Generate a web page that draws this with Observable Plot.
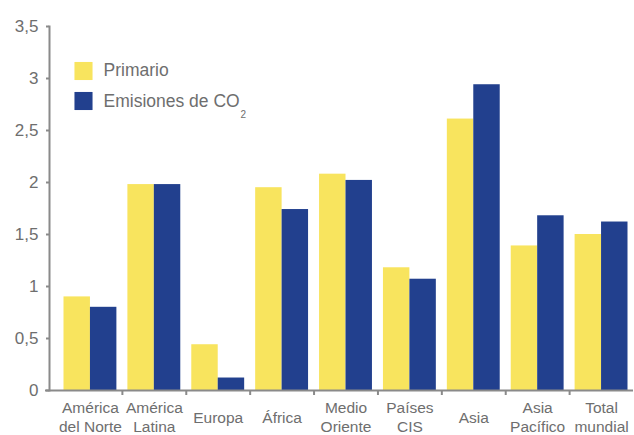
<!DOCTYPE html>
<html>
<head>
<meta charset="utf-8">
<script src="https://cdn.jsdelivr.net/npm/d3@7"></script>
<script src="https://cdn.jsdelivr.net/npm/@observablehq/plot@0.6"></script>
<style>
  body { margin: 0; background: #fff; }
  #chart svg { display: block; }
</style>
</head>
<body>
<div id="chart"></div>
<script>
// Regions (two-line labels) and intensity indices per region
const regions = ["América\ndel Norte", "América\nLatina", "Europa", "África", "Medio\nOriente", "Países\nCIS", "Asia", "Asia\nPacífico", "Total\nmundial"];
const primario = [0.90, 1.98, 0.44, 1.95, 2.08, 1.18, 2.61, 1.39, 1.50];
const emisiones = [0.80, 1.98, 0.12, 1.74, 2.02, 1.07, 2.94, 1.68, 1.62];
const seriesNames = ["Primario", "Emisiones de CO"];
const subscript = "2";
const yTicks = [0, 0.5, 1, 1.5, 2, 2.5, 3, 3.5];

const colors = ["#f8e45e", "#22408e"];
const axisColor = "#8a8a8a";
const textColor = "#6e6e6e";
const font = "'Liberation Sans', Arial, sans-serif";

const width = 634, height = 435;
const marginLeft = 49, marginRight = 1, marginTop = 26, marginBottom = 45;
const xInset = 9;
const bw = (width - marginLeft - marginRight - xInset) / regions.length;
const gap = 5.5;

const rows = regions.map((region, i) => ({region, primario: primario[i], emisiones: emisiones[i]}));
const decimalComma = d => String(d).replace(".", ",");

const chart = Plot.plot({
  width, height, marginLeft, marginRight, marginTop, marginBottom,
  style: {fontFamily: font, background: "#fff"},
  x: {domain: regions, padding: 0, round: false, insetLeft: xInset, axis: null, label: null},
  y: {domain: [0, 3.5], axis: null, label: null},
  marks: [
    Plot.barY(rows, {x: "region", y: "primario", fill: colors[0], insetLeft: gap, insetRight: bw / 2}),
    Plot.barY(rows, {x: "region", y: "emisiones", fill: colors[1], insetLeft: bw / 2, insetRight: gap}),
    // axes
    Plot.frame({anchor: "left", stroke: axisColor, strokeWidth: 2}),
    Plot.ruleY([0], {stroke: axisColor, strokeWidth: 2, insetLeft: -4}),
    Plot.axisY(yTicks, {
      tickSize: 3, tickPadding: 8, stroke: axisColor, strokeWidth: 2, label: null,
      fill: textColor, fontSize: 17, tickFormat: decimalComma
    }),
    Plot.axisX(regions.slice(1), {
      tickSize: 5, stroke: axisColor, strokeWidth: 2, dx: -bw / 2, label: null, tickFormat: () => ""
    }),
    Plot.text(rows, {
      x: "region", text: "region", frameAnchor: "bottom", dy: 26,
      lineAnchor: "middle", lineHeight: 1.25, fontSize: 15.5, fill: textColor
    }),
    // legend
    Plot.dot([seriesNames[0]], {frameAnchor: "top-left", dx: 34, dy: 44.5, symbol: "square", r: 10.2, fill: colors[0]}),
    Plot.dot([seriesNames[1]], {frameAnchor: "top-left", dx: 34, dy: 74.5, symbol: "square", r: 10.2, fill: colors[1]}),
    Plot.text([seriesNames[0]], {frameAnchor: "top-left", lineAnchor: "middle", dx: 54, dy: 44, text: d => d, textAnchor: "start", fontSize: 17.5, fill: textColor}),
    Plot.text([seriesNames[1]], {frameAnchor: "top-left", lineAnchor: "middle", dx: 54, dy: 75, text: d => d, textAnchor: "start", fontSize: 17.5, fill: textColor}),
    Plot.text([subscript], {frameAnchor: "top-left", lineAnchor: "middle", dx: 191, dy: 88, text: d => d, textAnchor: "start", fontSize: 10, fill: textColor})
  ]
});

document.getElementById("chart").append(chart);
</script>
</body>
</html>
